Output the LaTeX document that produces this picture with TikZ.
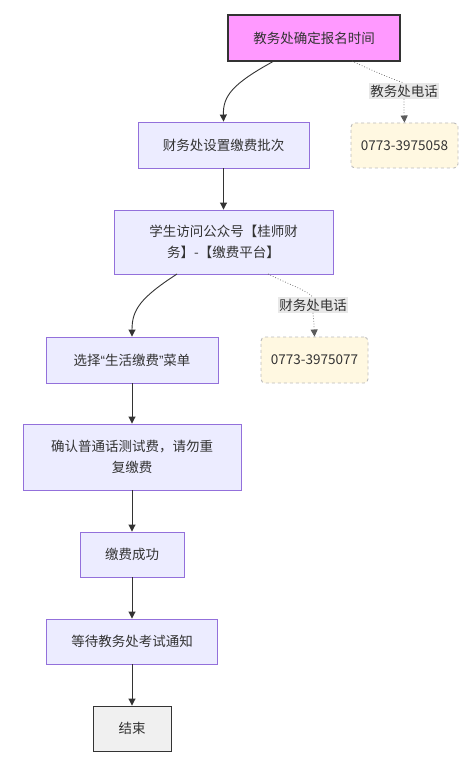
\documentclass[tikz,border=0pt]{standalone}
\usepackage{fontspec}
\newfontfamily\cjk{Noto Sans CJK SC}
\newfontfamily\latinq{Liberation Sans}
\usetikzlibrary{arrows.meta}
\definecolor{nodefill}{HTML}{ECECFF}
\definecolor{nodeline}{HTML}{9370DB}
\definecolor{pinkfill}{HTML}{FF99FF}
\definecolor{darkline}{HTML}{333333}
\definecolor{phonefill}{HTML}{FFF8E1}
\definecolor{phoneline}{HTML}{BBBBBB}
\definecolor{labelfill}{HTML}{E8E8E8}
\definecolor{edgecol}{HTML}{333333}
\tikzset{
  every node/.style={font=\cjk\fontsize{13.5}{21}\selectfont, text=darkline},
  procbox/.style={draw=nodeline, fill=nodefill, line width=0.9pt, align=center, inner sep=0pt},
  startbox/.style={draw=darkline, fill=pinkfill, line width=1.6pt, align=center, inner sep=0pt},
  endbox/.style={draw=darkline, fill=black!6, line width=0.9pt, align=center, inner sep=0pt},
  phonebox/.style={draw=phoneline, fill=phonefill, dashed, rounded corners=4pt, line width=0.9pt, inner sep=0pt},
  edgelabel/.style={fill=labelfill, inner sep=1.5pt},
  flow/.style={draw=edgecol, line width=0.9pt, -{Triangle[length=7pt,width=7pt]}},
  dotflow/.style={draw=edgecol!80, line width=0.7pt, dotted},
}
\begin{document}
\begin{tikzpicture}[x=1pt,y=-1pt]
\useasboundingbox[fill=white] (0,0) rectangle (472,762);
\node[startbox, minimum width=172pt, minimum height=46pt] (A) at (314,38) {教务处确定报名时间};
\node[procbox, minimum width=171pt, minimum height=46pt] (B) at (223.5,145) {财务处设置缴费批次};
\node[phonebox, minimum width=107pt, minimum height=45pt] (P1) at (404.5,145.5) {0773-3975058};
\node[edgelabel] (L1) at (404,91) {教务处电话};
\node[procbox, minimum width=219pt, minimum height=64pt] (C) at (223.5,242) {学生访问公众号【桂师财\\务】-【缴费平台】};
\node[edgelabel] (L2) at (313,305) {财务处电话};
\node[phonebox, minimum width=107pt, minimum height=46pt] (P2) at (314.5,360) {0773-3975077};
\node[procbox, minimum width=172pt, minimum height=46pt] (D) at (132,360) {选择{\latinq “}生活缴费{\latinq ”}菜单};
\node[procbox, minimum width=218pt, minimum height=66pt] (E) at (132,457) {确认普通话测试费，请勿重\\复缴费};
\node[procbox, minimum width=104pt, minimum height=45pt] (F) at (132,554.5) {缴费成功};
\node[procbox, minimum width=171pt, minimum height=45pt] (G) at (132,641.5) {等待教务处考试通知};
\node[endbox, minimum width=78pt, minimum height=45pt] (H) at (132,728.5) {结束};

\coordinate (As) at (274,61);
\coordinate (Ad) at (352,61);
\coordinate (Cs) at (177,274);
\coordinate (Cd) at (268,274);

\draw[flow] (As) .. controls (232,84) and (223,96) .. (B.north);
\draw[dotflow] (Ad) .. controls (375,72) and (395,80) .. (L1.north);
\draw[dotflow, -{Triangle[length=7pt,width=7pt]}] (L1.south) .. controls (404,108) and (404,112) .. (P1.north);
\draw[flow] (B) -- (C);
\draw[flow] (Cs) .. controls (140,298) and (132,310) .. (D.north);
\draw[dotflow] (Cd) .. controls (288,284) and (306,290) .. (L2.north);
\draw[dotflow, -{Triangle[length=7pt,width=7pt]}] (L2.south) .. controls (314,322) and (314,326) .. (P2.north);
\draw[flow] (D) -- (E);
\draw[flow] (E) -- (F);
\draw[flow] (F) -- (G);
\draw[flow] (G) -- (H);
\end{tikzpicture}
\end{document}
